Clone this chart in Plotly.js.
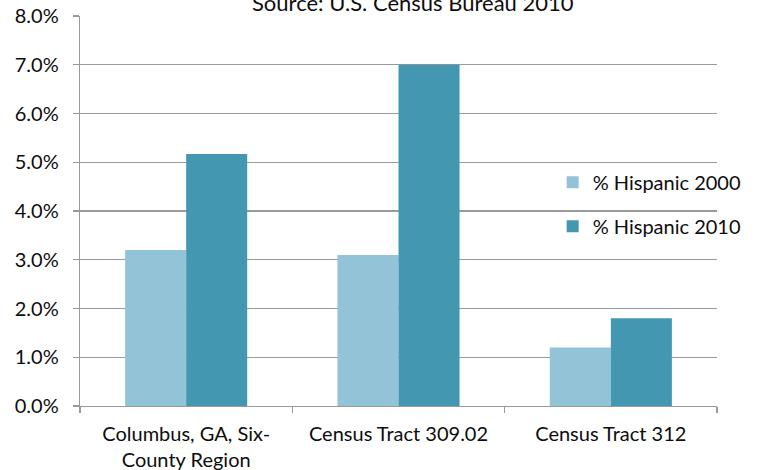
<!DOCTYPE html>
<html>
<head>
<meta charset="utf-8">
<script src="https://cdn.plot.ly/plotly-3.0.1.min.js"></script>
<style>
  html, body { margin: 0; padding: 0; background: #ffffff; }
  #chart { width: 763px; height: 470px; }
</style>
</head>
<body>
<div id="chart"></div>
<script>
// Share of Hispanic population by area, 2000 vs 2010
const areas = ["Columbus, GA, Six-<br>County Region", "Census Tract 309.02", "Census Tract 312"];
const hispanic2000 = [0.032, 0.031, 0.012];
const hispanic2010 = [0.0517, 0.070, 0.018];
const seriesNames = ["% Hispanic 2000", "% Hispanic 2010"];
const sourceNote = "Source: U.S. Census Bureau 2010";

const FONT = "Lato, 'Open Sans', sans-serif";
const TEXT = "#0d0d0d";
const GRID = "#9a9a9a";

const traces = [
  {
    type: "bar",
    name: seriesNames[0],
    x: areas,
    y: hispanic2000,
    marker: { color: "#93c3d6" },
    legendgroup: "a",
    hoverinfo: "skip"
  },
  {
    type: "bar",
    name: seriesNames[1],
    x: areas,
    y: hispanic2010,
    marker: { color: "#4397b0" },
    legendgroup: "b",
    hoverinfo: "skip"
  }
];

const layout = {
  width: 763,
  height: 470,
  paper_bgcolor: "#ffffff",
  plot_bgcolor: "#ffffff",
  margin: { l: 80, r: 46, t: 16, b: 64, pad: 0 },
  barmode: "group",
  bargap: 0.425,
  bargroupgap: 0,
  font: { family: FONT, size: 20, color: TEXT },
  xaxis: {
    type: "category",
    showline: true,
    linecolor: GRID,
    linewidth: 1.3,
    ticks: "outside",
    tickson: "boundaries",
    ticklen: 6,
    tickcolor: GRID,
    tickwidth: 1.3,
    showgrid: false,
    ticklabelstandoff: 10,
    tickfont: { family: FONT, size: 20, color: TEXT },
    automargin: false
  },
  yaxis: {
    range: [0, 0.08],
    dtick: 0.01,
    tickformat: ".1%",
    showline: true,
    linecolor: GRID,
    linewidth: 1.3,
    ticks: "outside",
    ticklen: 6,
    tickcolor: GRID,
    tickwidth: 1.3,
    showgrid: true,
    gridcolor: GRID,
    gridwidth: 1.3,
    zeroline: false,
    ticklabelstandoff: 10,
    tickfont: { family: FONT, size: 20, color: TEXT },
    automargin: false
  },
  legend: {
    x: 0.742,
    xanchor: "left",
    y: 0.517,
    yanchor: "middle",
    bgcolor: "rgba(0,0,0,0)",
    borderwidth: 0,
    traceorder: "grouped",
    tracegroupgap: 15,
    font: { family: FONT, size: 20, color: TEXT }
  },
  annotations: [
    {
      text: sourceNote,
      xref: "paper",
      yref: "paper",
      x: 0.523,
      y: 1.034,
      xanchor: "center",
      yanchor: "middle",
      showarrow: false,
      font: { family: FONT, size: 22, color: TEXT }
    }
  ]
};

Plotly.newPlot("chart", traces, layout, { displayModeBar: false, staticPlot: true });
</script>
</body>
</html>
